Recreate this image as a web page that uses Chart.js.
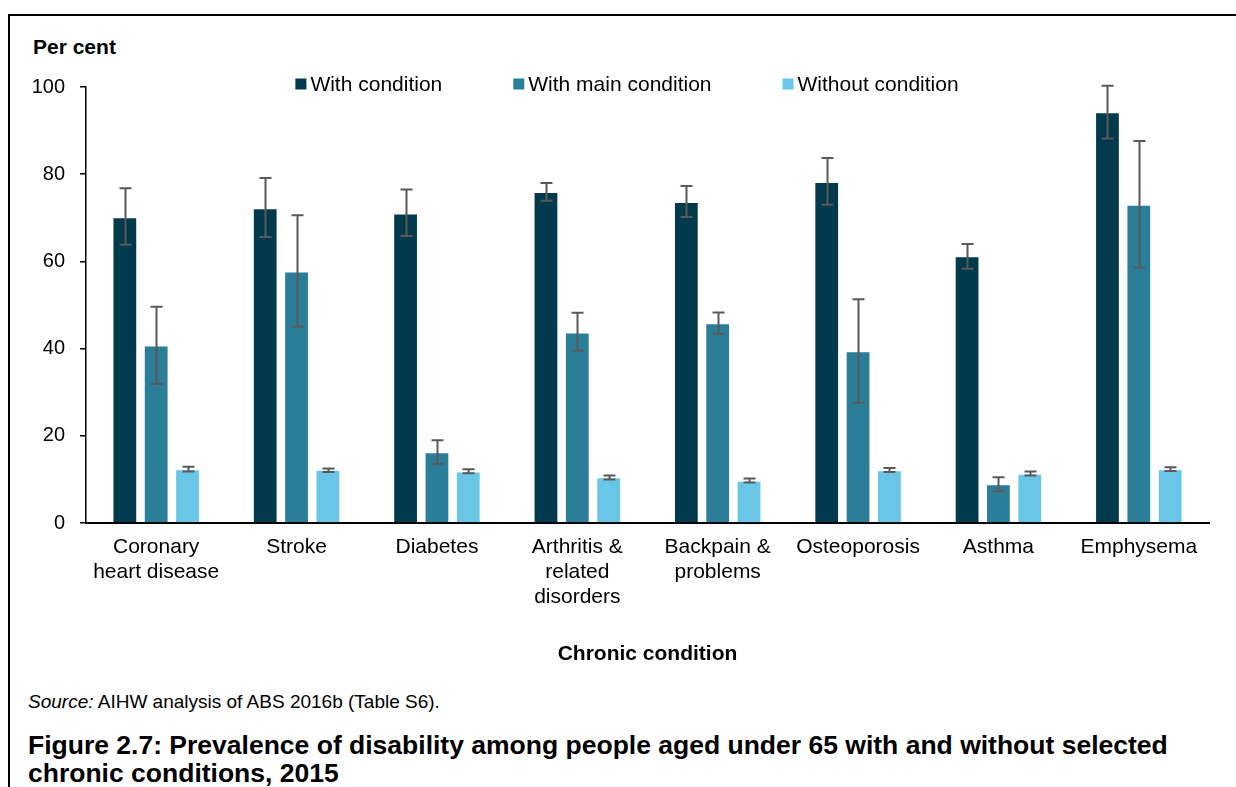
<!DOCTYPE html>
<html>
<head>
<meta charset="utf-8">
<script src="https://cdn.jsdelivr.net/npm/chart.js@4.4.0/dist/chart.umd.min.js"></script>
<style>
  html, body { margin: 0; padding: 0; background: #fff; }
  body { width: 1236px; height: 787px; position: relative; overflow: hidden; font-family: 'Liberation Sans', Arial, sans-serif; }
  .frame { position: absolute; left: 8px; top: 14px; width: 1300px; height: 900px; border-left: 2px solid #000; border-top: 2px solid #000; }
  #wrap { position: absolute; left: 0; top: 0; width: 1236px; height: 680px; }
  .ylabel { position: absolute; left: 33px; top: 35px; font-size: 21px; line-height: 24px; font-weight: bold; color: #000; }
  .source { position: absolute; left: 28px; top: 691px; font-size: 19px; line-height: 22px; color: #000; }
  .figtitle { position: absolute; left: 28px; top: 731px; font-size: 26.5px; font-weight: bold; line-height: 28px; color: #000; white-space: nowrap; }
</style>
</head>
<body>
<div class="frame"></div>
<div class="ylabel">Per cent</div>
<div id="wrap"><canvas id="chart" width="1236" height="680"></canvas></div>
<div class="source"><i>Source:</i> AIHW analysis of ABS 2016b (Table S6).</div>
<div class="figtitle">Figure 2.7: Prevalence of disability among people aged under 65 with and without selected<br>chronic conditions, 2015</div>

<script>
const conditions = [
  ['Coronary', 'heart disease'], 'Stroke', 'Diabetes',
  ['Arthritis &', 'related', 'disorders'], ['Backpain &', 'problems'],
  'Osteoporosis', 'Asthma', 'Emphysema'
]
const seriesNames = ['With condition', 'With main condition', 'Without condition']

const withCondition = [70.1, 72.2, 71.0, 75.9, 73.6, 78.2, 61.2, 94.2]
const withConditionLow = [63.8, 65.6, 65.8, 73.9, 70.2, 73.0, 58.3, 88.2]
const withConditionHigh = [76.8, 79.1, 76.5, 78.0, 77.3, 83.7, 64.0, 100.3]

const withMain = [40.7, 57.7, 16.2, 43.7, 45.8, 39.4, 8.9, 73.0]
const withMainLow = [31.9, 45.0, 13.6, 39.5, 43.4, 27.6, 7.3, 58.6]
const withMainHigh = [49.6, 70.6, 19.0, 48.2, 48.3, 51.3, 10.5, 87.6]

const withoutCondition = [12.3, 12.2, 11.8, 10.5, 9.7, 12.1, 11.3, 12.3]
const withoutConditionLow = [11.8, 11.7, 11.4, 10.0, 9.3, 11.7, 10.9, 11.9]
const withoutConditionHigh = [12.9, 12.5, 12.3, 10.9, 10.2, 12.6, 11.8, 12.8]

const yTicks = [0, 20, 40, 60, 80, 100]
const colours = ['#023a4d', '#2a7e98', '#69c6e6']

const FONT = "'Liberation Sans', Arial, sans-serif"

// confidence intervals drawn as capped whiskers over each bar
const errorBars = {
  id: 'errorBars',
  afterDatasetsDraw (chart) {
    const { ctx, scales: { y } } = chart
    ctx.save()
    ctx.strokeStyle = '#595959'
    ctx.lineWidth = 2
    chart.data.datasets.forEach((ds, i) => {
      const meta = chart.getDatasetMeta(i)
      meta.data.forEach((bar, j) => {
        const top = y.getPixelForValue(ds.errHigh[j])
        const bottom = y.getPixelForValue(ds.errLow[j])
        const x = Math.round(bar.x) + 0.5
        ctx.beginPath()
        ctx.moveTo(x, top)
        ctx.lineTo(x, bottom)
        ctx.moveTo(x - 6, top)
        ctx.lineTo(x + 6, top)
        ctx.moveTo(x - 6, bottom)
        ctx.lineTo(x + 6, bottom)
        ctx.stroke()
      })
    })
    ctx.restore()
  }
}

// single-row legend with tight box/text spacing
const rowLegend = {
  id: 'rowLegend',
  afterDraw (chart) {
    const ctx = chart.ctx
    const box = 11
    const gap = 4
    const spacing = 71
    ctx.save()
    ctx.font = '21px ' + FONT
    ctx.textBaseline = 'middle'
    const items = chart.data.datasets.map(ds => ({ label: ds.label, color: ds.backgroundColor, w: ctx.measureText(ds.label).width }))
    const total = items.reduce((s, it) => s + box + gap + it.w, 0) + spacing * (items.length - 1)
    let x = 627 - total / 2
    const yc = 84
    items.forEach(it => {
      ctx.fillStyle = it.color
      ctx.fillRect(x, yc - box / 2, box, box)
      ctx.fillStyle = '#000'
      ctx.fillText(it.label, x + box + gap, yc + 1)
      x += box + gap + it.w + spacing
    })
    ctx.restore()
  }
}

const makeSet = (label, data, low, high, color) => ({
  label,
  data,
  errLow: low,
  errHigh: high,
  backgroundColor: color,
  borderColor: 'rgba(255,255,255,0.45)',
  borderWidth: 1,
  borderSkipped: 'bottom',
  categoryPercentage: 0.67,
  barPercentage: 0.79
})

new Chart(document.getElementById('chart'), {
  type: 'bar',
  data: {
    labels: conditions,
    datasets: [
      makeSet(seriesNames[0], withCondition, withConditionLow, withConditionHigh, colours[0]),
      makeSet(seriesNames[1], withMain, withMainLow, withMainHigh, colours[1]),
      makeSet(seriesNames[2], withoutCondition, withoutConditionLow, withoutConditionHigh, colours[2])
    ]
  },
  options: {
    responsive: false,
    animation: false,
    layout: { padding: { left: 0, right: 27, top: 87, bottom: 11 } },
    plugins: {
      legend: { display: false },
      tooltip: { enabled: false }
    },
    scales: {
      x: {
        grid: { display: false, drawTicks: false, tickLength: 0 },
        border: { display: true, color: '#000', width: 2 },
        ticks: {
          color: '#000',
          font: { family: FONT, size: 21, lineHeight: 1.19 },
          padding: 12,
          maxRotation: 0,
          autoSkip: false
        },
        title: {
          display: true,
          text: 'Chronic condition',
          color: '#000',
          font: { family: FONT, size: 21, weight: 'bold' },
          padding: { top: 4, bottom: 2 }
        },
        afterFit: (scale) => { scale.height = 146 }
      },
      y: {
        min: 0,
        max: 100,
        afterBuildTicks: (scale) => { scale.ticks = yTicks.map(v => ({ value: v })) },
        grid: { display: true, drawOnChartArea: false, drawTicks: true, tickLength: 6, color: '#000', lineWidth: 1.5 },
        border: { display: true, color: '#000', width: 1.5 },
        ticks: {
          color: '#000',
          font: { family: FONT, size: 20 },
          padding: 15
        },
        afterFit: (scale) => { scale.width = 86 }
      }
    }
  },
  plugins: [errorBars, rowLegend]
})
</script>
</body>
</html>
